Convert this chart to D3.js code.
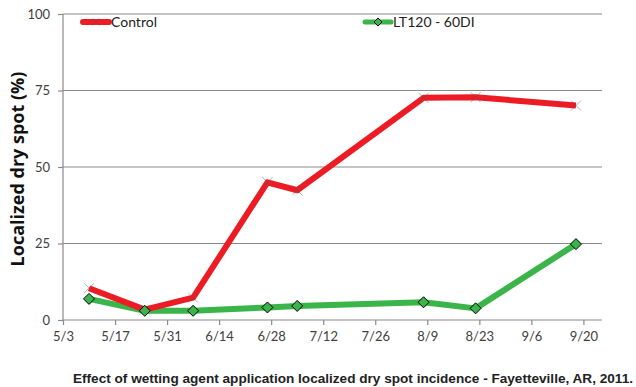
<!DOCTYPE html>
<html><head><meta charset="utf-8">
<script src="https://cdn.jsdelivr.net/npm/d3@7/dist/d3.min.js"></script>
<style>
html,body{margin:0;padding:0;background:#fff;}
svg{display:block;}
</style>
</head><body>
<svg id="chart" width="636" height="387"></svg>
<script>
const dates = ["5/10","5/25","6/7","6/27","7/5","8/8","8/22","9/18"];
const controlValues = [10.4, 3.4, 7.3, 45.0, 42.4, 72.6, 72.8, 70.1];
const ltValues = [6.9, 3.0, 3.0, 4.1, 4.6, 5.8, 3.8, 24.8];
const xTickLabels = ["5/3","5/17","5/31","6/14","6/28","7/12","7/26","8/9","8/23","9/6","9/20"];
const yTicks = [0, 25, 50, 75, 100];
const seriesNames = ["Control", "LT120 - 60DI"];
const yTitle = "Localized dry spot (%)";
const caption = "Effect of wetting agent application localized dry spot incidence - Fayetteville, AR, 2011.";

const parse = s => { const [m,d] = s.split("/").map(Number); return new Date(2011, m-1, d); };
const svg = d3.select("#chart");
const L = 63, R = 602, T = 14, B = 320;
const x = d3.scaleTime().domain([parse("5/3"), parse("9/25")]).range([L, R]);
const y = d3.scaleLinear().domain([0, 100]).range([B, T]);
const font = "Lato, 'Open Sans', sans-serif";

// gridlines
svg.append("g").selectAll("line").data(yTicks.filter(v => v > 0)).join("line")
  .attr("x1", L).attr("x2", R).attr("y1", d => y(d)).attr("y2", d => y(d))
  .attr("stroke", d => d % 50 === 0 ? "#c4c4c4" : "#8a8a8a")
  .attr("stroke-width", d => d % 50 === 0 ? 2 : 1.2);

// y axis
const ya = svg.append("g").attr("transform", `translate(${L},0)`)
  .call(d3.axisLeft(y).tickValues(yTicks).tickSize(5).tickPadding(8));
ya.select(".domain").attr("stroke", "#8a8a8a").attr("stroke-width", 1.2).attr("d", `M-0,${B}V${T}`);
ya.selectAll(".tick line").attr("stroke", "#8a8a8a").attr("stroke-width", 1.2);
ya.selectAll(".tick text").attr("font-family", font).attr("font-size", 13).attr("fill", "#404040");

// x axis
const xa = svg.append("g").attr("transform", `translate(0,${B})`)
  .call(d3.axisBottom(x).tickValues(xTickLabels.map(parse)).tickFormat((d,i) => xTickLabels[i]).tickSize(5).tickPadding(7));
xa.select(".domain").attr("stroke", "#8a8a8a").attr("stroke-width", 1.2).attr("d", `M${L},0H${R}`);
xa.selectAll(".tick line").attr("stroke", "#8a8a8a").attr("stroke-width", 1.2);
xa.selectAll(".tick text").attr("font-family", font).attr("font-size", 13).attr("fill", "#404040");

const line = d3.line().x(d => x(parse(d.date))).y(d => y(d.v));
const green = "#3bb54a", red = "#ed1c24";
const ltData = dates.map((d,i) => ({date: d, v: ltValues[i]}));
const ctData = dates.map((d,i) => ({date: d, v: controlValues[i]}));

svg.append("path").datum(ltData).attr("d", line).attr("fill", "none")
  .attr("stroke", green).attr("stroke-width", 6).attr("stroke-linejoin", "round");
svg.append("path").datum(ctData).attr("d", line).attr("fill", "none")
  .attr("stroke", red).attr("stroke-width", 6).attr("stroke-linejoin", "round");

const xMark = (g, cx, cy, s) => {
  g.append("path").attr("d", `M${cx-s},${cy-s}L${cx+s},${cy+s}M${cx-s},${cy+s}L${cx+s},${cy-s}`)
    .attr("stroke", "#555").attr("stroke-opacity", 0.6).attr("stroke-width", 0.8).attr("fill", "none");
};
const diamond = (g, cx, cy, s) => {
  g.append("path").attr("d", `M${cx},${cy-s}L${cx+s},${cy}L${cx},${cy+s}L${cx-s},${cy}Z`)
    .attr("fill", green).attr("stroke", "#000").attr("stroke-width", 1);
};
const mg = svg.append("g");
ctData.forEach(d => xMark(mg, x(parse(d.date)), y(d.v), 5));
ltData.forEach(d => diamond(mg, x(parse(d.date)), y(d.v), 5.5));

// legend
const lg = svg.append("g");
lg.append("line").attr("x1", 83).attr("x2", 109).attr("y1", 22).attr("y2", 22)
  .attr("stroke", red).attr("stroke-width", 6).attr("stroke-linecap", "round");
xMark(lg, 96, 22, 3.5);
lg.append("text").attr("x", 111).attr("y", 27).text(seriesNames[0])
  .attr("font-family", font).attr("font-size", 14).attr("fill", "#222");
lg.append("line").attr("x1", 365).attr("x2", 391).attr("y1", 22).attr("y2", 22)
  .attr("stroke", green).attr("stroke-width", 5).attr("stroke-linecap", "round");
diamond(lg, 378, 22, 4);
lg.append("text").attr("x", 393).attr("y", 27).text(seriesNames[1])
  .attr("font-family", font).attr("font-size", 14).attr("fill", "#222");

// y title
svg.append("text").attr("transform", "translate(24,169) rotate(-90)")
  .attr("text-anchor", "middle").text(yTitle)
  .attr("font-family", "'Open Sans', sans-serif").attr("font-weight", "bold").attr("font-size", 18).attr("fill", "#111");

// caption
svg.append("text").attr("x", 633).attr("y", 383).attr("text-anchor", "end").text(caption)
  .attr("font-family", "'Liberation Sans', Arial, sans-serif").attr("font-weight", "bold").attr("font-size", 13.6).attr("fill", "#222");
</script>
</body></html>
